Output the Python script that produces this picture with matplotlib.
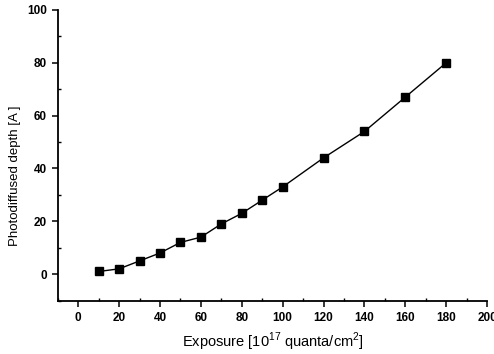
import matplotlib
matplotlib.use('Agg')
import matplotlib.pyplot as plt
from matplotlib.ticker import MultipleLocator

plt.rcParams['font.family'] = ['Liberation Sans', 'DejaVu Sans']
plt.rcParams['mathtext.fontset'] = 'custom'
plt.rcParams['mathtext.rm'] = 'Liberation Sans'

exposure = [10, 20, 30, 40, 50, 60, 70, 80, 90, 100, 120, 140, 160, 180]
depth = [1, 2, 5, 8, 12, 14, 19, 23, 28, 33, 44, 54, 67, 80]

fig = plt.figure(figsize=(4.94, 3.54), dpi=100)
ax = fig.add_axes([0.117, 0.151, 0.869, 0.821])

ax.plot(exposure, depth, color='black', linewidth=1.0,
        marker='s', markersize=5.5, markerfacecolor='black', markeredgecolor='black')

ax.set_xlim(-10, 200)
ax.set_ylim(-10, 100)
ax.xaxis.set_major_locator(MultipleLocator(20))
ax.xaxis.set_minor_locator(MultipleLocator(10))
ax.yaxis.set_major_locator(MultipleLocator(20))
ax.yaxis.set_minor_locator(MultipleLocator(10))

for side in ['top', 'right']:
    ax.spines[side].set_visible(False)
for side in ['left', 'bottom']:
    ax.spines[side].set_linewidth(1.3)

ax.tick_params(which='major', direction='out', length=4, width=1.1, labelsize=8.5, pad=4)
ax.tick_params(which='minor', direction='in', length=2.5, width=1.0)
for lbl in ax.get_xticklabels() + ax.get_yticklabels():
    lbl.set_fontweight('bold')

ax.set_xlabel('Exposure [10$^{\\mathrm{17}}$ quanta/cm$^{\\mathrm{2}}$]', fontsize=10.5, labelpad=5)
ax.set_ylabel('Photodiffused depth [A ]', fontsize=9.5)
ax.yaxis.set_label_coords(-0.085, 0.43)

fig.savefig('out.png', dpi=100)
